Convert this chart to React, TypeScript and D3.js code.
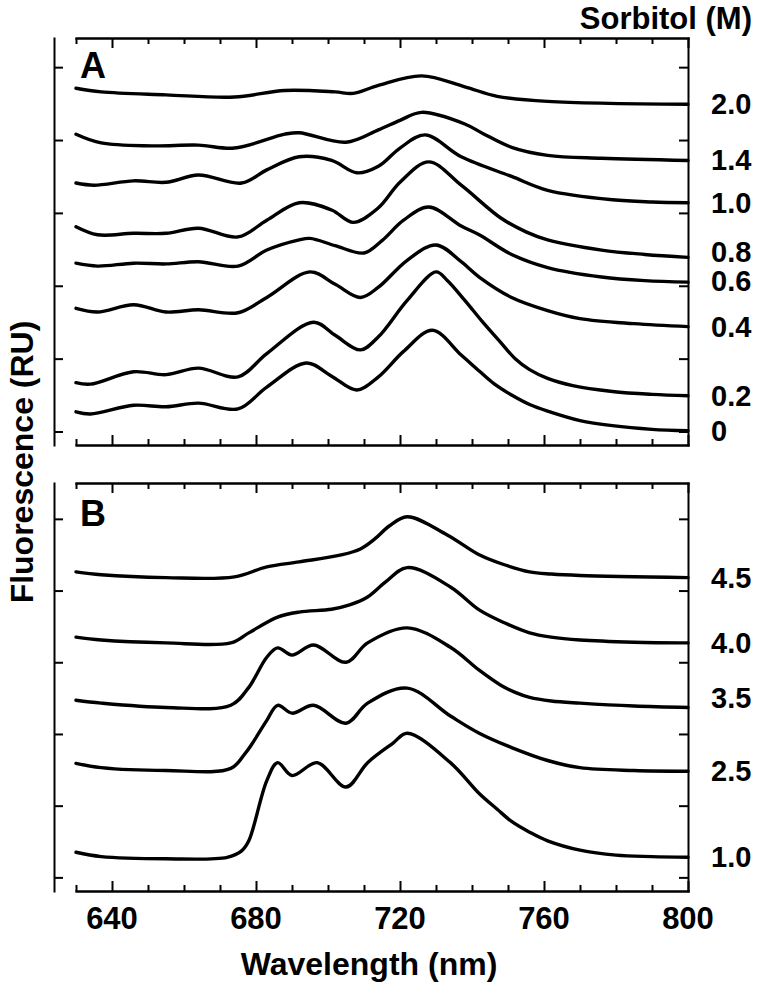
import React, { useRef, useEffect } from 'react';
import * as d3 from 'd3';

// wavelength axis (nm)
const wavelengthTicks = d3.range(630, 801, 10);
const wavelengthLabels = [640, 680, 720, 760, 800];
const yTicks = [0, 1, 2, 3, 4, 5];

// panel A: spectra at increasing sorbitol (M), [wavelength, fluorescence RU]
const specA_0 = [[630,0.27],[634,0.24],[646,0.36],[655,0.34],[664,0.39],[675,0.31],[683,0.61],[694,0.94],[701,0.76],[708,0.57],[714,0.75],[721,1.10],[729,1.39],[737,1.05],[742,0.83],[746,0.66],[751,0.50],[756,0.37],[761,0.28],[770,0.15],[779,0.08],[790,0.03],[800,0.01]];
const specA_02 = [[630,0.67],[634,0.65],[646,0.82],[655,0.78],[664,0.87],[675,0.75],[683,1.07],[696,1.50],[702,1.32],[709,1.12],[714,1.30],[722,1.80],[730,2.19],[733,2.08],[738,1.80],[743,1.50],[748,1.22],[752,1.00],[756,0.85],[761,0.73],[768,0.63],[779,0.55],[790,0.51],[800,0.49]];
const specA_04 = [[630,1.69],[636,1.64],[646,1.74],[655,1.64],[664,1.67],[675,1.63],[683,1.84],[695,2.19],[702,2.02],[709,1.84],[714,1.98],[722,2.35],[730,2.56],[737,2.33],[742,2.12],[751,1.84],[761,1.66],[770,1.55],[785,1.48],[800,1.44]];
const specA_06 = [[630,2.31],[636,2.27],[646,2.31],[655,2.30],[664,2.33],[675,2.27],[683,2.49],[692,2.63],[695,2.65],[702,2.55],[710,2.45],[715,2.62],[721,2.90],[728,3.08],[737,2.82],[742,2.70],[751,2.43],[761,2.25],[776,2.12],[788,2.07],[800,2.05]];
const specA_08 = [[630,2.81],[636,2.70],[646,2.72],[655,2.72],[664,2.79],[675,2.67],[683,2.90],[692,3.14],[701,3.04],[707,2.87],[714,3.07],[720,3.42],[728,3.70],[737,3.38],[748,2.93],[755,2.74],[761,2.63],[776,2.49],[788,2.43],[800,2.39]];
const specA_10 = [[630,3.41],[635,3.38],[646,3.44],[655,3.42],[664,3.52],[676,3.41],[683,3.59],[692,3.77],[701,3.72],[708,3.55],[714,3.64],[720,3.89],[727,4.07],[737,3.77],[751,3.50],[761,3.31],[779,3.18],[790,3.15],[800,3.14]];
const specA_14 = [[630,4.08],[637,3.96],[651,3.92],[664,3.93],[674,3.89],[688,4.08],[692,4.10],[705,3.97],[714,4.14],[720,4.27],[726,4.38],[738,4.22],[743,4.09],[751,3.90],[761,3.79],[776,3.75],[800,3.72]];
const specA_20 = [[630,4.71],[637,4.66],[655,4.62],[674,4.59],[688,4.68],[702,4.66],[707,4.64],[714,4.75],[726,4.88],[738,4.73],[747,4.60],[761,4.53],[800,4.49]];
const sorbitolA = ['0', '0.2', '0.4', '0.6', '0.8', '1.0', '1.4', '2.0'];

// panel B
const specB_10 = [[630,0.35],[637,0.29],[655,0.26],[672,0.28],[676,0.37],[678,0.51],[683,1.35],[686,1.60],[690,1.42],[697,1.60],[705,1.26],[711,1.60],[718,1.87],[722,2.01],[734,1.60],[742,1.17],[747,0.95],[751,0.78],[756,0.63],[761,0.51],[770,0.38],[780,0.31],[790,0.29],[800,0.28]];
const specB_25 = [[630,1.59],[637,1.53],[655,1.49],[673,1.52],[677,1.73],[679,1.87],[683,2.19],[686,2.40],[690,2.29],[696,2.40],[705,2.15],[711,2.43],[722,2.64],[734,2.25],[742,2.01],[751,1.81],[761,1.63],[770,1.53],[785,1.49],[800,1.48]];
const specB_35 = [[630,2.47],[637,2.43],[655,2.37],[673,2.40],[678,2.65],[683,3.07],[686,3.20],[690,3.10],[696,3.24],[705,3.00],[711,3.27],[722,3.48],[734,3.21],[742,2.89],[748,2.68],[752,2.58],[756,2.51],[762,2.46],[770,2.43],[785,2.39],[800,2.37]];
const specB_40 = [[630,3.35],[637,3.31],[655,3.27],[673,3.27],[678,3.41],[686,3.63],[692,3.70],[701,3.74],[706,3.80],[711,3.91],[716,4.12],[722,4.32],[734,4.05],[742,3.73],[749,3.55],[756,3.41],[762,3.35],[770,3.31],[785,3.28],[800,3.27]];
const specB_45 = [[630,4.26],[637,4.22],[655,4.18],[674,4.19],[683,4.33],[692,4.40],[704,4.50],[709,4.58],[713,4.72],[717,4.90],[722,5.03],[733,4.78],[742,4.50],[749,4.36],[756,4.26],[762,4.23],[770,4.21],[800,4.18]];
const sorbitolB = ['1.0', '2.5', '3.5', '4.0', '4.5'];

const FONT = "'Liberation Sans', Arial, Helvetica, sans-serif";

const App = () => {
    const ref = useRef(null);

    useEffect(() => {
        const width = 759;
        const height = 985;
        const plotLeft = 76;
        const plotRight = 688;
        const axisX = 54;

        const svg = d3.select(ref.current);
        svg.selectAll('*').remove();

        const x = d3.scaleLinear([630, 800], [plotLeft, plotRight]);

        // small tweaks where the printed labels sit off their curve end
        const labelNudge = { '0.8': -5, '0.6': -1, '3.5': -9 };

        const panels = [
            { name: 'A', top: 38, bottom: 445, domain: [-0.185, 5.4],
              series: [specA_0, specA_02, specA_04, specA_06, specA_08, specA_10, specA_14, specA_20], labels: sorbitolA },
            { name: 'B', top: 483, bottom: 891, domain: [-0.19, 5.5],
              series: [specB_10, specB_25, specB_35, specB_40, specB_45], labels: sorbitolB },
        ];

        const styleAxis = g => {
            g.selectAll('path.domain').attr('stroke-width', 2).attr('stroke-linecap', 'square');
            g.selectAll('.tick line').attr('stroke-width', 2);
            g.selectAll('.tick text').remove();
        };

        panels.forEach(p => {
            const y = d3.scaleLinear(p.domain, [p.bottom, p.top]);
            const major = wavelengthTicks.filter(t => wavelengthLabels.includes(t));
            const minor = wavelengthTicks.filter(t => !wavelengthLabels.includes(t));

            // top edge, ticks inward
            svg.append('g').attr('transform', `translate(0,${p.top})`)
                .call(d3.axisBottom(x).tickValues(minor).tickSize(6).tickSizeOuter(0)).call(styleAxis);
            svg.append('g').attr('transform', `translate(0,${p.top})`)
                .call(d3.axisBottom(x).tickValues(major).tickSize(10).tickSizeOuter(0)).call(styleAxis);
            // bottom edge
            svg.append('g').attr('transform', `translate(0,${p.bottom})`)
                .call(d3.axisTop(x).tickValues(minor).tickSize(6).tickSizeOuter(0)).call(styleAxis);
            svg.append('g').attr('transform', `translate(0,${p.bottom})`)
                .call(d3.axisTop(x).tickValues(major).tickSize(10).tickSizeOuter(0)).call(styleAxis);
            // right edge
            svg.append('g').attr('transform', `translate(${plotRight},0)`)
                .call(d3.axisLeft(y).tickValues(yTicks).tickSize(9).tickSizeOuter(0)).call(styleAxis);
            // detached left axis
            svg.append('g').attr('transform', `translate(${axisX},0)`)
                .call(d3.axisRight(y).tickValues(yTicks).tickSize(9).tickSizeOuter(0)).call(styleAxis);

            const line = d3.line()
                .x(d => x(d[0]))
                .y(d => y(d[1]))
                .curve(d3.curveCatmullRom.alpha(0.5));

            svg.append('g')
                .selectAll('path')
                .data(p.series)
                .join('path')
                .attr('fill', 'none')
                .attr('stroke', '#000')
                .attr('stroke-width', 3.4)
                .attr('stroke-linejoin', 'round')
                .attr('stroke-linecap', 'round')
                .attr('d', line);

            svg.append('g')
                .selectAll('text')
                .data(p.series)
                .join('text')
                .attr('x', 711)
                .attr('y', (d, i) => y(d[d.length - 1][1]) + 10 + (labelNudge[p.labels[i]] || 0))
                .attr('font-family', FONT)
                .attr('font-weight', 'bold')
                .attr('font-size', 29)
                .text((d, i) => p.labels[i]);

            svg.append('text')
                .attr('x', 80)
                .attr('y', p.top + (p.name === 'A' ? 40 : 43))
                .attr('font-family', FONT)
                .attr('font-weight', 'bold')
                .attr('font-size', 36)
                .text(p.name);
        });

        svg.append('g')
            .selectAll('text')
            .data(wavelengthLabels)
            .join('text')
            .attr('x', d => x(d))
            .attr('y', 929)
            .attr('text-anchor', 'middle')
            .attr('font-family', FONT)
            .attr('font-weight', 'bold')
            .attr('font-size', 31)
            .text(d => d);

        svg.append('text')
            .attr('x', 369)
            .attr('y', 975)
            .attr('text-anchor', 'middle')
            .attr('font-family', FONT)
            .attr('font-weight', 'bold')
            .attr('font-size', 32)
            .text('Wavelength (nm)');

        svg.append('text')
            .attr('transform', 'translate(33,462) rotate(-90)')
            .attr('text-anchor', 'middle')
            .attr('font-family', FONT)
            .attr('font-weight', 'bold')
            .attr('font-size', 32)
            .text('Fluorescence (RU)');

        svg.append('text')
            .attr('x', 752)
            .attr('y', 29)
            .attr('text-anchor', 'end')
            .attr('font-family', FONT)
            .attr('font-weight', 'bold')
            .attr('font-size', 31)
            .text('Sorbitol (M)');

        svg.attr('width', width).attr('height', height);
    }, []);

    return (
        <svg ref={ref} width={759} height={985}
            style={{ position: 'absolute', left: 0, top: 0, background: '#fff' }} />
    );
};

export default App;
